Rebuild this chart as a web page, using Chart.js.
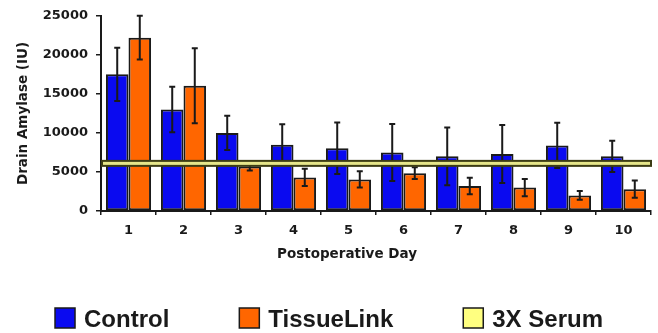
<!DOCTYPE html>
<html>
<head>
<meta charset="utf-8">
<script src="https://cdn.jsdelivr.net/npm/chart.js@4.4.1/dist/chart.umd.min.js"></script>
<style>
  html, body { margin: 0; padding: 0; background: #ffffff; }
  #wrap { width: 658px; height: 333px; position: relative; }
</style>
</head>
<body>
<div id="wrap"><canvas id="chart"></canvas></div>
<script>
// Drain amylase by postoperative day (mean ± SD)
const days = ['1', '2', '3', '4', '5', '6', '7', '8', '9', '10'];
const controlMean = [17500, 13000, 10000, 8500, 8050, 7500, 7000, 7300, 8400, 7000];
const controlSD   = [3400, 2900, 2200, 2600, 3300, 3650, 3700, 3700, 2900, 2000];
const tissueMean  = [22200, 16050, 5700, 4300, 4050, 4850, 3200, 3000, 2000, 2800];
const tissueSD    = [2800, 4800, 500, 1100, 1050, 750, 1050, 1100, 550, 1100];
const serumLevel  = 6100;   // three times serum amylase
const yTicks      = [0, 5000, 10000, 15000, 20000, 25000];
const seriesNames = ['Control', 'TissueLink', '3X Serum'];
const seriesColors = ['#0a0af0', '#ff6600', '#ffff80'];

const INK = '#1a1a1a';
const AXIS_FONT = { family: '"DejaVu Sans", sans-serif', weight: 'bold', size: 13 };

// whiskers for each bar
const errorBars = {
  id: 'errorBars',
  afterDatasetsDraw(chart) {
    const { ctx, scales: { y } } = chart;
    const sds = [controlSD, tissueSD];
    ctx.save();
    ctx.strokeStyle = INK;
    ctx.lineWidth = 2;
    chart.data.datasets.forEach((ds, i) => {
      const meta = chart.getDatasetMeta(i);
      meta.data.forEach((bar, j) => {
        const v = ds.data[j], e = sds[i][j];
        const top = y.getPixelForValue(v + e);
        const bot = y.getPixelForValue(v - e);
        const x = bar.x;
        ctx.beginPath();
        ctx.moveTo(x, top); ctx.lineTo(x, bot);
        ctx.moveTo(x - 3, top); ctx.lineTo(x + 3, top);
        ctx.moveTo(x - 3, bot); ctx.lineTo(x + 3, bot);
        ctx.stroke();
      });
    });
    ctx.restore();
  }
};

// horizontal band at the 3X serum threshold
const serumBand = {
  id: 'serumBand',
  afterDatasetsDraw(chart) {
    const { ctx, chartArea, scales: { y } } = chart;
    const py = y.getPixelForValue(serumLevel);
    ctx.save();
    ctx.fillStyle = '#e6e68a';
    ctx.strokeStyle = '#3c3c14';
    ctx.lineWidth = 2;
    ctx.fillRect(chartArea.left + 1, py - 2.5, chartArea.right - chartArea.left - 1, 5);
    ctx.strokeRect(chartArea.left + 1, py - 2.5, chartArea.right - chartArea.left - 1, 5);
    ctx.restore();
  }
};

// x-axis title and the legend row underneath
const footer = {
  id: 'footer',
  afterDraw(chart) {
    const { ctx, width } = chart;
    ctx.save();
    ctx.fillStyle = INK;
    ctx.font = 'bold 13.5px "DejaVu Sans", sans-serif';
    ctx.textAlign = 'center';
    ctx.textBaseline = 'alphabetic';
    ctx.fillText('Postoperative Day', 347, 258);

    ctx.font = 'bold 24px "Liberation Sans", Arial, sans-serif';
    ctx.textAlign = 'left';
    const box = 20, gapText = 9, gapItem = 70;
    const widths = seriesNames.map(n => ctx.measureText(n).width);
    const total = widths.reduce((a, w) => a + box + gapText + w, 0) + gapItem * (seriesNames.length - 1);
    let x = (width - total) / 2;
    seriesNames.forEach((name, i) => {
      ctx.fillStyle = seriesColors[i];
      ctx.fillRect(x, 308, box, box);
      ctx.strokeStyle = INK;
      ctx.lineWidth = 1.5;
      ctx.strokeRect(x, 308, box, box);
      ctx.fillStyle = INK;
      ctx.fillText(name, x + box + gapText, 327);
      x += box + gapText + widths[i] + gapItem;
    });
    ctx.restore();
  }
};

new Chart(document.getElementById('chart'), {
  type: 'bar',
  data: {
    labels: days,
    datasets: [
      { label: seriesNames[0], data: controlMean, backgroundColor: seriesColors[0],
        borderColor: INK, borderWidth: 2, borderSkipped: false },
      { label: seriesNames[1], data: tissueMean, backgroundColor: seriesColors[1],
        borderColor: INK, borderWidth: 2, borderSkipped: false }
    ]
  },
  options: {
    responsive: true,
    maintainAspectRatio: false,
    animation: false,
    layout: { padding: { left: 15, right: 7, top: 15, bottom: 0 } },
    datasets: { bar: { categoryPercentage: 0.82, barPercentage: 1 } },
    plugins: { legend: { display: false }, tooltip: { enabled: false } },
    scales: {
      x: {
        grid: { display: true, drawOnChartArea: false, offset: true, color: INK, lineWidth: 1.5, tickLength: 4 },
        border: { display: true, color: INK, width: 2 },
        ticks: { color: INK, font: AXIS_FONT, padding: 8 },
        afterFit(scale) { scale.height = 122; }
      },
      y: {
        min: 0, max: 25000,
        afterBuildTicks(scale) { scale.ticks = yTicks.map(v => ({ value: v })); },
        grid: { display: true, drawOnChartArea: false, color: INK, lineWidth: 1.5, tickLength: 5 },
        border: { display: true, color: INK, width: 2 },
        ticks: { color: INK, font: AXIS_FONT, padding: 8, callback: v => String(v) },
        title: { display: true, text: 'Drain Amylase (IU)', color: INK,
                 font: { family: '"DejaVu Sans", sans-serif', weight: 'bold', size: 13.5 },
                 padding: { top: 0, bottom: 0 } },
        afterFit(scale) { scale.width = 86; }
      }
    }
  },
  plugins: [errorBars, serumBand, footer]
});
</script>
</body>
</html>
